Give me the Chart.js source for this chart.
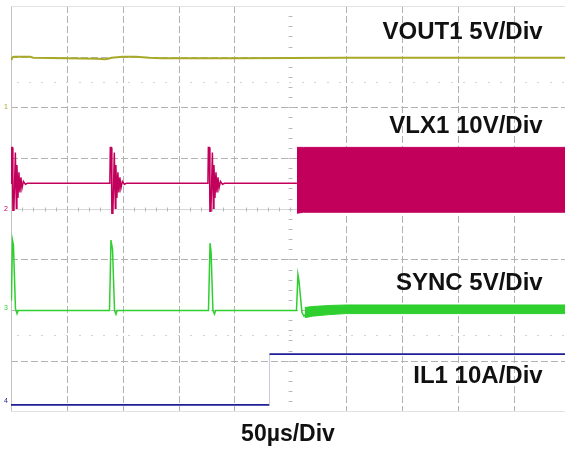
<!DOCTYPE html>
<html>
<head>
<meta charset="utf-8">
<script src="https://cdn.jsdelivr.net/npm/chart.js@4"></script>
<style>
  body { margin: 0; background: #fff; overflow: hidden; }
  canvas { display: block; }
</style>
</head>
<body>
<canvas id="scope" width="565" height="450"></canvas>
<script>
// time in µs (50µs/div), level in screen divisions (centre = 0)
let timeDivs = [0, 50, 100, 150, 200, 250, 300, 350, 400, 450];
let levelDivs = [-4, -3, -2, -1, 0, 1, 2, 3, 4];
let channelNames = ["VOUT1 5V/Div", "VLX1 10V/Div", "SYNC 5V/Div", "IL1 10A/Div"];
let timeBase = "50µs/Div";

let vout1Time = [0, 1.5, 3, 17, 20, 50, 78, 84, 87, 90, 100, 112, 124, 135, 200, 300, 400, 496];
let vout1Level = [2.93, 2.99, 3.0, 3.0, 2.98, 2.97, 2.96, 2.95, 2.96, 2.98, 3.0, 3.0, 2.98, 2.97, 2.97, 2.98, 2.98, 2.98];

let vlx1Time = [
  0, 0.3, 1.2, 1.7, 2.6, 3.9, 4.8, 5.3, 6.2, 7.1, 8.0, 8.9, 9.8, 11.1, 12.9, 14.7,
  88.5, 88.9, 89.8, 90.3, 91.2, 92.5, 93.4, 93.9, 94.8, 95.7, 96.6, 97.5, 98.4, 99.7, 101.5, 103.3,
  176.3, 176.7, 177.6, 178.1, 179.0, 180.3, 181.2, 181.7, 182.6, 183.5, 184.4, 185.3, 186.2, 187.5, 189.3, 191.1,
  256
];
let vlx1Level = [
  0.5, 1.21, 1.21, -0.03, -0.03, 1.11, 0.01, 0.86, 0.21, 0.72, 0.32, 0.62, 0.40, 0.54, 0.48, 0.5,
  0.5, 1.21, 1.21, -0.09, -0.09, 1.11, 0.01, 0.86, 0.21, 0.72, 0.32, 0.62, 0.40, 0.54, 0.48, 0.5,
  0.5, 1.21, 1.21, -0.05, -0.05, 1.11, 0.01, 0.86, 0.21, 0.72, 0.32, 0.62, 0.40, 0.54, 0.48, 0.5,
  0.5
];
// switching envelope after the burst starts
let vlx1BandTime = [256, 262, 496];
let vlx1BandTop = [1.21, 1.21, 1.21];
let vlx1BandBottom = [-0.09, -0.07, -0.07];

let syncTime = [
  0.4, 1.3, 2.2, 4.0, 5.4, 6.3,
  88.2, 89.5, 90.9, 92.7, 94.0, 94.9,
  176.8, 178.2, 179.1, 180.8, 182.2, 183.1,
  255.6, 256.9, 257.8, 260.5, 262.3, 264.1
];
let syncLevel = [
  -1.81, -0.62, -0.72, -1.97, -2.07, -2.01,
  -2.01, -0.62, -0.80, -2.01, -2.08, -2.01,
  -2.01, -0.68, -0.85, -2.01, -2.08, -2.01,
  -2.01, -1.30, -1.42, -2.05, -2.12, -2.08
];
let syncBandTime = [263, 270, 285, 300, 496];
let syncBandTop = [-1.95, -1.93, -1.91, -1.90, -1.90];
let syncBandBottom = [-2.15, -2.12, -2.09, -2.07, -2.07];

let il1Time = [0, 231.4, 231.4, 496];
let il1Level = [-3.87, -3.87, -2.87, -2.87];

let colVout = "#a9a928";
let colVlx = "#c2005c";
let colSync = "#2fcf2f";
let colIl = "#1e1e96";

function pts(xs, ys) {
  return xs.map((t, i) => ({ x: t, y: ys[i] }));
}

const scopeGrid = {
  id: "scopeGrid",
  beforeDatasetsDraw(chart) {
    const ctx = chart.ctx;
    const a = chart.chartArea;
    const x = chart.scales.x;
    const y = chart.scales.y;
    const right = chart.width;

    function seg(x1, y1, x2, y2) {
      ctx.beginPath();
      ctx.moveTo(x1, y1);
      ctx.lineTo(x2, y2);
      ctx.stroke();
    }

    ctx.save();
    ctx.lineWidth = 1;

    // dashed division lines
    ctx.strokeStyle = "#b2b2b2";
    ctx.setLineDash([7, 3]);
    timeDivs.forEach(v => {
      if (v === 0 || v === 250) return;
      let px = Math.round(x.getPixelForValue(v)) + 0.5;
      seg(px, a.top, px, a.bottom);
    });
    levelDivs.forEach(v => {
      if (v === 4 || v === -4 || v === 0) return;
      let py = Math.round(y.getPixelForValue(v)) + 0.5;
      seg(a.left, py, right, py);
    });

    // frame
    ctx.setLineDash([]);
    ctx.strokeStyle = "#c4c4c4";
    let lx = Math.round(a.left) + 0.5;
    seg(lx, a.top, lx, a.bottom);
    ctx.strokeStyle = "#e2e2e2";
    seg(a.left, Math.round(a.top) + 0.5, right, Math.round(a.top) + 0.5);
    seg(a.left, Math.round(a.bottom) + 0.5, right, Math.round(a.bottom) + 0.5);

    // centre horizontal axis with minor ticks
    let cy = Math.round(y.getPixelForValue(0)) + 0.5;
    ctx.strokeStyle = "#d6d6d6";
    seg(a.left, cy, right, cy);
    ctx.strokeStyle = "#b8b8b8";
    for (let t = 10; t < x.max; t += 10) {
      let px = Math.round(x.getPixelForValue(t)) + 0.5;
      seg(px, cy - 2, px, cy + 2);
    }
    // centre vertical axis, ticks only
    let cx = Math.round(x.getPixelForValue(250)) + 0.5;
    for (let d = -3.8; d < 4; d += 0.2) {
      let py = Math.round(y.getPixelForValue(d)) + 0.5;
      seg(cx - 2, py, cx + 2, py);
    }
    // faint dotted rows
    ctx.fillStyle = "#d4d4d4";
    [2.5, -2.5].forEach(d => {
      let py = Math.round(y.getPixelForValue(d));
      for (let t = 5; t < x.max; t += 11.1) {
        ctx.fillRect(Math.round(x.getPixelForValue(t)), py, 2, 1);
      }
    });
    ctx.restore();
  },
  afterDatasetsDraw(chart) {
    const ctx = chart.ctx;
    const x = chart.scales.x;
    const y = chart.scales.y;
    // label baselines (levels) and right edge (time)
    const labelLevels = [3.35, 1.49, -1.61, -3.43];
    ctx.save();
    ctx.fillStyle = "#111";
    ctx.font = "bold 24px Arial, 'Liberation Sans', sans-serif";
    ctx.textAlign = "right";
    ctx.textBaseline = "alphabetic";
    channelNames.forEach((name, i) => {
      ctx.fillText(name, x.getPixelForValue(476), y.getPixelForValue(labelLevels[i]));
    });
    // channel reference markers
    ctx.font = "7px Arial, sans-serif";
    ctx.textAlign = "center";
    ctx.textBaseline = "middle";
    [[2.0, colVout], [0.0, colVlx], [-1.97, colSync], [-3.8, colIl]].forEach((m, i) => {
      ctx.fillStyle = m[1];
      ctx.fillText(String(i + 1), 6, y.getPixelForValue(m[0]));
    });
    ctx.restore();
  }
};

const ctx = document.getElementById("scope").getContext("2d");

new Chart(ctx, {
  type: "line",
  data: {
    datasets: [
      { data: pts(vout1Time, vout1Level), borderColor: colVout, borderWidth: 2 },
      { data: pts(vlx1Time, vlx1Level), borderColor: colVlx, borderWidth: 1.5 },
      { data: pts(vlx1BandTime, vlx1BandTop), borderColor: colVlx, backgroundColor: colVlx, borderWidth: 1, fill: "+1" },
      { data: pts(vlx1BandTime, vlx1BandBottom), borderColor: colVlx, borderWidth: 1 },
      { data: pts(syncTime, syncLevel), borderColor: colSync, borderWidth: 1.5 },
      { data: pts(syncBandTime, syncBandTop), borderColor: colSync, backgroundColor: colSync, borderWidth: 1, fill: "+1" },
      { data: pts(syncBandTime, syncBandBottom), borderColor: colSync, borderWidth: 1 },
      {
        data: pts(il1Time, il1Level),
        borderColor: colIl,
        borderWidth: 1.8,
        // the fast current step shows only as a faint trace
        segment: {
          borderColor: c => c.p0.parsed.x === c.p1.parsed.x ? "#c9c9dc" : undefined,
          borderWidth: c => c.p0.parsed.x === c.p1.parsed.x ? 1 : undefined
        }
      }
    ]
  },
  options: {
    responsive: false,
    animation: false,
    layout: { padding: { left: 11, top: 6, right: 0, bottom: 0 } },
    elements: {
      point: { radius: 0 },
      line: { tension: 0 }
    },
    plugins: {
      legend: { display: false },
      tooltip: { enabled: false }
    },
    scales: {
      x: {
        type: "linear",
        min: 0,
        max: 496,
        ticks: { display: false },
        grid: { display: false, drawTicks: false },
        border: { display: false },
        title: {
          display: true,
          text: timeBase,
          color: "#111",
          font: { family: "Arial, 'Liberation Sans', sans-serif", size: 23, weight: "bold" },
          padding: { top: 9, bottom: 2 }
        }
      },
      y: {
        display: false,
        min: -4,
        max: 4
      }
    }
  },
  plugins: [scopeGrid]
});
</script>
</body>
</html>
